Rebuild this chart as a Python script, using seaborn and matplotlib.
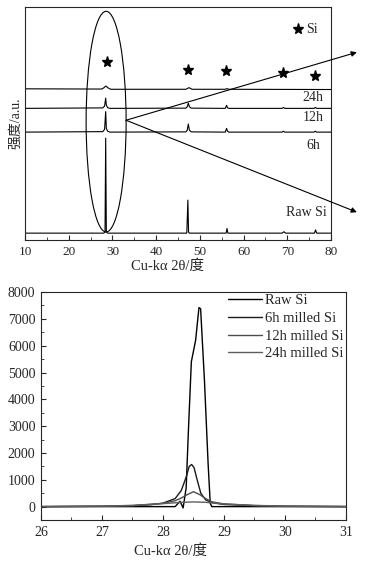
import numpy as np
import pandas as pd
import matplotlib
matplotlib.use("Agg")
import matplotlib.pyplot as plt
import seaborn as sns
from matplotlib.patches import Ellipse
from matplotlib.ticker import MultipleLocator

# ---- top panel: stacked XRD patterns (arbitrary units) ----
raw_x = [10, 28.0, 28.3, 28.45, 28.6, 28.9, 47.0, 47.25, 47.4, 47.6, 56.0, 56.2, 56.4,
         68.8, 69.2, 69.6, 76.2, 76.45, 76.7, 80]
raw_y = [0.030, 0.030, 0.035, 0.438, 0.035, 0.030, 0.030, 0.172, 0.035, 0.030, 0.030, 0.050, 0.030,
         0.030, 0.036, 0.030, 0.030, 0.044, 0.030, 0.030]

h6_x = [10, 27.8, 28.2, 28.45, 28.6, 28.9, 29.4, 46.8, 47.1, 47.35, 47.6, 48.0, 55.8, 56.1, 56.3, 56.6,
        68.8, 69.1, 69.4, 76.1, 76.4, 76.7, 80]
h6_y = [0.464, 0.466, 0.476, 0.552, 0.480, 0.468, 0.464, 0.465, 0.472, 0.499, 0.472, 0.465, 0.464, 0.480, 0.468, 0.464,
        0.464, 0.468, 0.464, 0.464, 0.468, 0.464, 0.464]

h12_x = [10, 27.8, 28.2, 28.45, 28.6, 28.9, 29.4, 46.8, 47.1, 47.35, 47.6, 48.0, 55.8, 56.1, 56.3, 56.6,
         68.8, 69.1, 69.4, 76.1, 76.4, 76.7, 80]
h12_y = [0.566, 0.568, 0.576, 0.610, 0.580, 0.569, 0.566, 0.567, 0.573, 0.588, 0.573, 0.567, 0.566, 0.579, 0.569, 0.566,
         0.566, 0.570, 0.566, 0.566, 0.570, 0.566, 0.566]

h24_x = [10, 27.5, 28.0, 28.5, 29.0, 29.6, 46.8, 47.5, 48.2, 55.8, 56.2, 56.6, 80]
h24_y = [0.650, 0.649, 0.654, 0.662, 0.654, 0.648, 0.648, 0.655, 0.648, 0.648, 0.651, 0.648, 0.647]

star_x = [28.76, 47.2, 56.0, 69.0, 76.4]
star_y = [0.764, 0.730, 0.725, 0.716, 0.706]

# ---- bottom panel: zoom on the (111) peak ----
raw_px = [26, 28.2, 28.28, 28.33, 28.38, 28.42, 28.465, 28.535, 28.59, 28.617, 28.68, 28.74, 28.775, 28.8, 31]
raw_py = [0, 0, 200, -50, 700, 3000, 5400, 6200, 7420, 7380, 4700, 1600, 120, 0, 0]

h6_px = [26, 27.0, 27.5, 27.8, 28.0, 28.2, 28.3, 28.38, 28.43, 28.47, 28.51, 28.56, 28.62, 28.7, 28.8, 29.0, 29.5, 30, 31]
h6_py = [0, 10, 30, 70, 130, 300, 600, 1100, 1500, 1570, 1450, 1000, 500, 250, 150, 80, 30, 10, 0]

h12_px = [26, 27, 27.5, 28, 28.2, 28.3, 28.4, 28.5, 28.6, 28.7, 28.8, 29, 29.5, 30, 31]
h12_py = [0, 15, 40, 120, 220, 320, 450, 555, 450, 300, 180, 100, 40, 15, 0]

h24_px = [26, 27, 27.5, 28, 28.3, 28.5, 28.7, 29, 29.5, 30, 31]
h24_py = [0, 20, 45, 110, 160, 175, 160, 100, 45, 20, 5]

legend_labels = ["Raw Si", "6h milled Si", "12h milled Si", "24h milled Si"]
line_colors = ["#000000", "#1a1a1a", "#4d4d4d", "#5e5e5e"]

sns.set_style("ticks")
plt.rcParams['font.family'] = ['Liberation Serif', 'Noto Sans CJK SC']
plt.rcParams['axes.linewidth'] = 0.8
plt.rcParams['xtick.direction'] = 'in'
plt.rcParams['ytick.direction'] = 'in'

fig = plt.figure(figsize=(3.71, 5.65), dpi=100)
ax1 = fig.add_axes([0.0674, 0.575, 0.825, 0.412])
ax2 = fig.add_axes([0.1105, 0.0796, 0.822, 0.4035])

# top panel
for xs, ys in [(raw_x, raw_y), (h6_x, h6_y), (h12_x, h12_y), (h24_x, h24_y)]:
    df = pd.DataFrame({"x": xs, "y": ys})
    sns.lineplot(data=df, x="x", y="y", ax=ax1, color="black", lw=0.8,
                 estimator=None, sort=False)

ax1.plot(star_x, star_y, ls="none", marker="*", ms=8, color="black")
ax1.plot([72.5], [0.906], ls="none", marker="*", ms=8, color="black")
ax1.text(74.2, 0.906, "Si", fontsize=10, va="center", ha="left")

ax1.text(75.9, 0.614, "24h", fontsize=10, ha="center", va="center")
ax1.text(75.9, 0.528, "12h", fontsize=10, ha="center", va="center")
ax1.text(75.9, 0.408, "6h", fontsize=10, ha="center", va="center")
ax1.text(74.3, 0.120, "Raw Si", fontsize=10, ha="center", va="center")

ax1.add_patch(Ellipse((28.55, 0.509), 9.15, 0.948, fill=False, ec="black", lw=0.8))
for end_y in [0.807, 0.120]:
    ax1.annotate("", xy=(85.9, end_y), xytext=(33.1, 0.515), annotation_clip=False,
                 arrowprops=dict(arrowstyle="-|>", color="black", lw=0.8,
                                 mutation_scale=8, shrinkA=0, shrinkB=0))

ax1.set_xlim(10, 80)
ax1.set_ylim(0, 1)
ax1.set_yticks([])
ax1.xaxis.set_major_locator(MultipleLocator(10))
ax1.xaxis.set_minor_locator(MultipleLocator(5))
ax1.tick_params(axis="x", which="major", length=3.5, width=0.8, labelsize=9.5, pad=4)
ax1.tick_params(axis="x", which="minor", length=2, width=0.6)
ax1.set_xlabel("Cu-kα 2θ/度", fontsize=10.5)
ax1.xaxis.set_label_coords(0.467, -0.083)
ax1.set_ylabel("强度/a.u.", fontsize=10, labelpad=2)

# bottom panel
for xs, ys, lab, c in zip([raw_px, h6_px, h12_px, h24_px], [raw_py, h6_py, h12_py, h24_py],
                          legend_labels, line_colors):
    df = pd.DataFrame({"x": xs, "y": ys})
    sns.lineplot(data=df, x="x", y="y", ax=ax2, color=c, lw=1.0, label=lab,
                 estimator=None, sort=False)

ax2.set_xlim(26, 31)
ax2.set_ylim(-500, 8000)
ax2.xaxis.set_major_locator(MultipleLocator(1))
ax2.xaxis.set_minor_locator(MultipleLocator(0.5))
ax2.yaxis.set_major_locator(MultipleLocator(1000))
ax2.yaxis.set_minor_locator(MultipleLocator(500))
ax2.tick_params(which="major", length=3.5, width=0.8, labelsize=10, pad=4)
ax2.tick_params(which="minor", length=2, width=0.6)
ax2.set_xlabel("Cu-kα 2θ/度", fontsize=10.5)
ax2.xaxis.set_label_coords(0.426, -0.107)
ax2.set_ylabel("")
ax2.legend(loc="upper right", bbox_to_anchor=(1.0, 1.0), frameon=False, fontsize=10.5,
           handlelength=2.3, handletextpad=0.25, labelspacing=0.3, borderaxespad=0.15,
           borderpad=0.0)

fig.savefig("out.png", dpi=100)
